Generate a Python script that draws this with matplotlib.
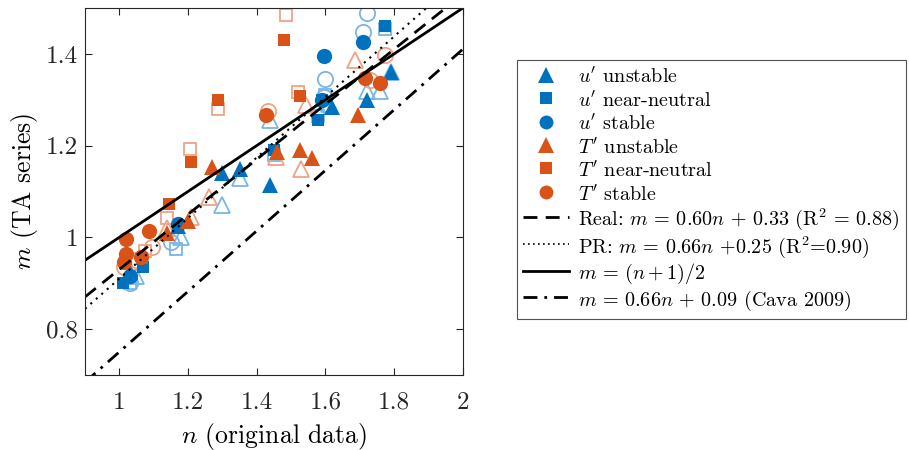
import matplotlib
matplotlib.use('Agg')
import matplotlib.pyplot as plt
from matplotlib.lines import Line2D
import numpy as np

plt.rcParams['font.family'] = 'serif'
plt.rcParams['font.serif'] = ['cmr10']
plt.rcParams['mathtext.fontset'] = 'cm'
plt.rcParams['axes.unicode_minus'] = False
plt.rcParams['axes.formatter.use_mathtext'] = True

# filled markers: real data, open markers: PR data
u_unst_x = [1.03, 1.17, 1.30, 1.35, 1.44, 1.62, 1.72, 1.79]
u_unst_y = [0.925, 1.025, 1.14, 1.15, 1.115, 1.285, 1.30, 1.36]
u_unst_pr_x = [1.05, 1.18, 1.30, 1.35, 1.44, 1.61, 1.72, 1.76, 1.79]
u_unst_pr_y = [0.915, 1.00, 1.07, 1.13, 1.257, 1.29, 1.32, 1.32, 1.36]

u_neu_x = [1.01, 1.065, 1.07, 1.17, 1.45, 1.58, 1.59, 1.775]
u_neu_y = [0.90, 0.952, 0.935, 1.02, 1.19, 1.257, 1.30, 1.46]
u_neu_pr_x = [1.03, 1.165, 1.45, 1.58, 1.60, 1.775]
u_neu_pr_y = [0.90, 0.975, 1.18, 1.265, 1.31, 1.455]

u_stab_x = [1.03, 1.17, 1.59, 1.595, 1.71]
u_stab_y = [0.915, 1.03, 1.30, 1.396, 1.426]
u_stab_pr_x = [1.03, 1.15, 1.595, 1.60, 1.71, 1.72]
u_stab_pr_y = [0.90, 0.99, 1.305, 1.345, 1.448, 1.489]

t_unst_x = [1.14, 1.20, 1.27, 1.46, 1.527, 1.56, 1.696]
t_unst_y = [1.01, 1.035, 1.154, 1.187, 1.19, 1.174, 1.267]
t_unst_pr_x = [1.14, 1.21, 1.26, 1.455, 1.53, 1.545, 1.687]
t_unst_pr_y = [1.02, 1.045, 1.089, 1.175, 1.148, 1.289, 1.387]

t_neu_x = [1.065, 1.145, 1.21, 1.287, 1.481, 1.527]
t_neu_y = [0.955, 1.072, 1.165, 1.30, 1.43, 1.309]
t_neu_pr_x = [1.075, 1.14, 1.206, 1.287, 1.484, 1.52]
t_neu_pr_y = [0.97, 1.043, 1.193, 1.28, 1.485, 1.317]

t_stab_x = [1.02, 1.02, 1.015, 1.064, 1.087, 1.426, 1.716, 1.76]
t_stab_y = [0.996, 0.963, 0.946, 0.956, 1.013, 1.267, 1.348, 1.337]
t_stab_pr_x = [1.015, 1.05, 1.096, 1.432, 1.73, 1.774]
t_stab_pr_y = [0.935, 0.95, 0.978, 1.276, 1.343, 1.398]

blue = '#0072BD'
orange = '#D95319'
lblue = '#7AB6E4'
lorange = '#F0A285'

fig = plt.figure(figsize=(9.09, 4.5), dpi=100)
ax = fig.add_axes([0.0935, 0.167, 0.4155, 0.815])

groups = [
    (u_unst_pr_x, u_unst_pr_y, '^', lblue, 12),
    (u_neu_pr_x, u_neu_pr_y, 's', lblue, 8),
    (u_stab_pr_x, u_stab_pr_y, 'o', lblue, 11),
    (t_unst_pr_x, t_unst_pr_y, '^', lorange, 12),
    (t_neu_pr_x, t_neu_pr_y, 's', lorange, 8),
    (t_stab_pr_x, t_stab_pr_y, 'o', lorange, 11),
]
for x, y, mk, c, ms in groups:
    ax.plot(x, y, linestyle='none', marker=mk, markersize=ms, markerfacecolor='none',
            markeredgecolor=c, markeredgewidth=1.3)

filled = [
    (u_unst_x, u_unst_y, '^', blue, 12),
    (u_neu_x, u_neu_y, 's', blue, 8),
    (u_stab_x, u_stab_y, 'o', blue, 11),
    (t_unst_x, t_unst_y, '^', orange, 12),
    (t_neu_x, t_neu_y, 's', orange, 8),
    (t_stab_x, t_stab_y, 'o', orange, 11),
]
for x, y, mk, c, ms in filled:
    ax.plot(x, y, linestyle='none', marker=mk, markersize=ms, color=c, markeredgewidth=0)

n = np.array([0.9, 2.0])
ax.plot(n, 0.60*n + 0.33, color='k', lw=2, linestyle=(0, (5, 3)))
ax.plot(n, 0.66*n + 0.25, color='k', lw=1.5, linestyle=(0, (1, 2.5)))
ax.plot(n, (n + 1)/2, color='k', lw=2, linestyle='-')
ax.plot(n, 0.66*n + 0.09, color='k', lw=2, linestyle=(0, (5, 2.5, 1, 2.5)))

ax.set_xlim(0.9, 2)
ax.set_ylim(0.7, 1.5)
ax.set_xticks([1, 1.2, 1.4, 1.6, 1.8, 2])
ax.set_xticklabels(['1', '1.2', '1.4', '1.6', '1.8', '2'])
ax.set_yticks([0.8, 1, 1.2, 1.4])
ax.set_yticklabels(['0.8', '1', '1.2', '1.4'])
ax.tick_params(direction='in', top=True, right=True, length=5, width=0.8,
               labelsize=18, colors='#262626')
ax.tick_params(axis='x', pad=12)
ax.tick_params(axis='y', pad=5)
for s in ax.spines.values():
    s.set_color('#262626')
    s.set_linewidth(0.8)
ax.set_xlabel('$n$ (original data)', fontsize=18.5, labelpad=5)
ax.set_ylabel('$m$ (TA series)', fontsize=18.5, labelpad=4)

handles = [
    Line2D([], [], ls='none', marker='^', ms=11, color=blue, mew=0),
    Line2D([], [], ls='none', marker='s', ms=8, color=blue, mew=0),
    Line2D([], [], ls='none', marker='o', ms=10, color=blue, mew=0),
    Line2D([], [], ls='none', marker='^', ms=11, color=orange, mew=0),
    Line2D([], [], ls='none', marker='s', ms=8, color=orange, mew=0),
    Line2D([], [], ls='none', marker='o', ms=10, color=orange, mew=0),
    Line2D([], [], color='k', lw=2, ls=(0, (5, 3))),
    Line2D([], [], color='k', lw=1.2, ls=(0, (1, 2))),
    Line2D([], [], color='k', lw=2, ls='-'),
    Line2D([], [], color='k', lw=2, ls=(0, (5, 2.5, 1, 2.5))),
]
labels = [
    "$u'$ unstable",
    "$u'$ near-neutral",
    "$u'$ stable",
    "$T'$ unstable",
    "$T'$ near-neutral",
    "$T'$ stable",
    "Real: $m\\,=\\,0.60n\\,+\\,0.33$ (R$^2$ = 0.88)",
    "PR: $m\\,=\\,0.66n$ +0.25 (R$^2$=0.90)",
    "$m\\,=\\,(n+1)/2$",
    "$m\\,=\\,0.66n\\,+\\,0.09$ (Cava 2009)",
]
leg = fig.legend(handles, labels, loc='upper left', bbox_to_anchor=(517/909, 1 - 60/450),
                 fontsize=14.5, frameon=True, fancybox=False, edgecolor='#262626',
                 handlelength=2.3, handletextpad=0.45, labelspacing=0.1,
                 handleheight=1.25, borderpad=0.3, borderaxespad=0)
leg.get_frame().set_linewidth(0.8)

fig.savefig('out.png', dpi=100)
